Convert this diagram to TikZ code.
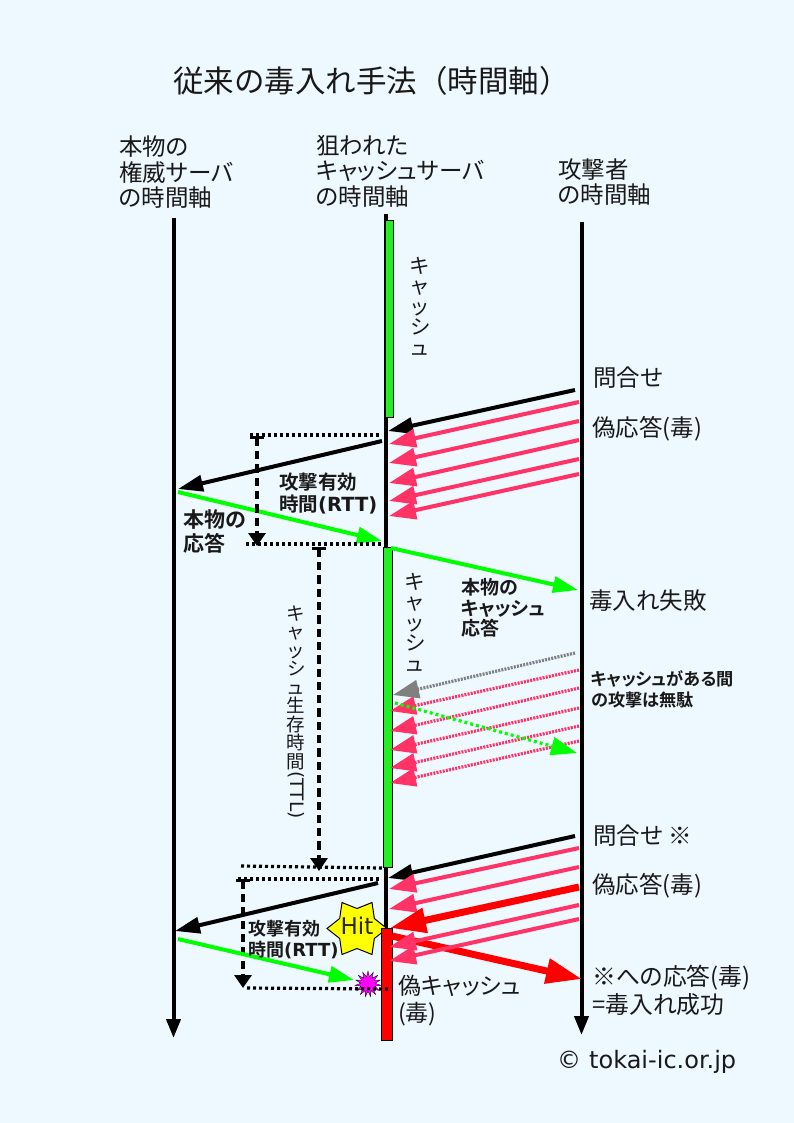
\documentclass[tikz,border=0pt]{standalone}
\usepackage{fontspec}
\setmainfont{Noto Sans CJK JP}[RawFeature=+palt,BoldFont=* Bold]
\newfontfamily\fullfont{Noto Sans CJK JP}
\newfontfamily\latinfont{DejaVu Sans}
\usetikzlibrary{arrows.meta,positioning,shapes.geometric}
\definecolor{softblue}{RGB}{238,248,255}
\definecolor{fakepink}{RGB}{255,51,102}
\definecolor{cachegreen}{RGB}{34,240,34}
\definecolor{hityellow}{RGB}{255,255,0}
\definecolor{burstpink}{RGB}{255,0,255}
\newcommand{\fsz}[1]{\fontsize{#1}{#1}\selectfont}
\begin{document}
\begin{tikzpicture}[
  x=1pt,y=-1pt,
  txt/.style={inner sep=0pt,anchor=west,align=left,text=black!90,font=\fontsize{23.5}{25.5}\selectfont},
  boldtxt/.style={txt,font=\fontsize{19}{20.5}\selectfont\bfseries},
  vert/.style={inner sep=0pt,align=center,text=black!90,font=\fontsize{20.5}{20.5}\selectfont},
  axis/.style={line width=4pt,black},
  bar/.style={draw=black,line width=1pt,inner sep=0pt,minimum width=8pt},
  msg/.style={-{Triangle[length=25pt,width=16pt]},line width=4pt},
  fake/.style={-{Triangle[length=27pt,width=18pt]},line width=4pt,fakepink},
  dot/.style={line width=3.2pt,black,dash pattern=on 3pt off 3pt},
  fine/.style={-{Triangle[length=26pt,width=18pt]},line width=3.2pt,dash pattern=on 2pt off 1.2pt},
  span/.style={{Bar[width=14pt,line width=2.5pt]}-{Triangle[length=13pt,width=17pt]},line width=4.5pt,black,dash pattern=on 8.3pt off 5pt},
  heavy/.style={-{Triangle[length=36pt,width=24pt]},line width=7pt,red}
]
\fill[softblue] (0,0) rectangle (794,1123);
\useasboundingbox (0,0) rectangle (794,1123);

% time axes
\coordinate (authtop) at (173.5,218);
\coordinate (authend) at (173.5,1038);
\coordinate (cachetop) at (386,214);
\coordinate (cacheend) at (386,1000);
\coordinate (atktop) at (581.5,222);
\coordinate (atkend) at (581.5,1035);
\draw[axis,-{Triangle[length=19pt,width=14pt]}] (authtop)--(authend);
\draw[axis] (cachetop)--(cacheend);
\draw[axis,-{Triangle[length=19pt,width=14pt]}] (atktop)--(atkend);

% cache state
\node[bar,fill=cachegreen,minimum height=197pt] (cacheA) at (389.5,319) {};
\node[bar,fill=cachegreen,minimum height=320pt,minimum width=9pt] (cacheB) at (387.5,707) {};
\node[star,star points=6,star point ratio=1.5,rotate=30,draw=black,line width=1pt,fill=hityellow,inner sep=0pt,minimum size=60pt] (hitmark) at (357,928.5) {};
\node[font=\latinfont\fsz{23},inner sep=0pt,text=black!85] (hit) at (357,926) {Hit};
\node[bar,fill=red,minimum height=112pt,minimum width=11pt] (cacheC) at (386.5,984) {};
\node[star,star points=15,star point ratio=1.8,draw=black,line width=.3pt,fill=burstpink,inner sep=0pt,minimum size=26pt] (burst) at (368,984) {};

% first round
\coordinate (q1a) at (575,390); \coordinate (q1b) at (388,431);
\draw[msg] (q1a)--(q1b);
\foreach \n/\ya/\yb in {1/402/444,2/421/463,3/440/483,4/459/501,5/474/516}{
  \coordinate (fa\n) at (579,\ya); \coordinate (fb\n) at (389,\yb);
  \draw[fake] (fa\n)--(fb\n);
}
\coordinate (up1a) at (382,441); \coordinate (up1b) at (178,489);
\draw[msg] (up1a)--(up1b);
\coordinate (real1a) at (178,492); \coordinate (real1b) at (382,541);
\draw[msg,green] (real1a)--(real1b);
\coordinate (real2a) at (391,548); \coordinate (real2b) at (578,590);
\draw[msg,green] (real2a)--(real2b);

\coordinate (rtt1a) at (250,435); \coordinate (rtt1c) at (380,435);
\coordinate (rtt1b) at (246,544); \coordinate (rtt1d) at (384,544);
\draw[dot] (rtt1a)--(rtt1c); \draw[dot] (rtt1b)--(rtt1d);
\coordinate (rtt1top) at (257,436); \coordinate (rtt1low) at (257,546);
\draw[span] (rtt1top)--(rtt1low);
\coordinate (ttltop) at (319,547); \coordinate (ttllow) at (319,871);
\draw[span] (ttltop)--(ttllow);

% while cached
\foreach \n/\ya/\yb in {1/670/711,2/688/731,3/708/750,4/726/768,5/741/783}{
  \coordinate (ga\n) at (579,\ya); \coordinate (gb\n) at (390,\yb);
  \draw[fine,fakepink] (ga\n)--(gb\n);
}
\coordinate (grya) at (575,653); \coordinate (gryb) at (393,695);
\draw[fine,gray] (grya)--(gryb);
\coordinate (deada) at (395,703); \coordinate (deadb) at (577,753);
\draw[fine,green,dash pattern=on 3pt off 3pt] (deada)--(deadb);

% second round
\coordinate (rtt2a) at (241,866); \coordinate (rtt2c) at (382,868);
\coordinate (rtt2b) at (238,879); \coordinate (rtt2d) at (381,879);
\draw[dot] (rtt2a)--(rtt2c); \draw[dot] (rtt2b)--(rtt2d);
\coordinate (rtt2e) at (247,988); \coordinate (rtt2f) at (388,989);
\draw[dot] (rtt2e)--(rtt2f);
\coordinate (rtt2top) at (243,879); \coordinate (rtt2low) at (243,988);
\draw[span] (rtt2top)--(rtt2low);

\coordinate (hita) at (392,936); \coordinate (hitb) at (582,979);
\draw[heavy] (hita)--(hitb);
\coordinate (q2a) at (575,836); \coordinate (q2b) at (388,878);
\draw[msg] (q2a)--(q2b);
\foreach \n/\ya/\yb in {1/848/889,2/867/909,4/905/947,5/919/961}{
  \coordinate (ha\n) at (579,\ya); \coordinate (hb\n) at (389,\yb);
  \draw[fake] (ha\n)--(hb\n);
}
\coordinate (ha3) at (579,887); \coordinate (hb3) at (390,928);
\draw[heavy] (ha3)--(hb3);
\coordinate (up2a) at (378,883); \coordinate (up2b) at (175,931);
\draw[msg] (up2a)--(up2b);
\coordinate (real3a) at (178,939); \coordinate (real3b) at (354,980);
\draw[msg,green] (real3a)--(real3b);

% labels
\node[txt,font=\fullfont\fontsize{30.5}{30.5}\selectfont] (title) at (173,81) {従来の毒入れ手法（時間軸）};
\node[txt] (authlab) at (119,172.5) {本物の\\権威サーバ\\の時間軸};
\node[txt] (cachelab) at (316,171) {狙われた\\キャッシュサーバ\\の時間軸};
\node[txt] (atklab) at (558,182) {攻撃者\\の時間軸};

\node[vert] (cachetxtA) at (420,306) {キ\\ャ\\ッ\\シ\\ュ};
\node[vert] (cachetxtB) at (415,622) {キ\\ャ\\ッ\\シ\\ュ};
\node[vert,font=\fontsize{18.5}{18.5}\selectfont] (ttltxt) at (296,687.5) {キ\\ャ\\ッ\\シ\\ュ\\生\\存\\時\\間};
\node[inner sep=0pt,rotate=-90,font=\latinfont\fsz{18.5},text=black!90] (ttlunit) at (296,795) {(TTL)};

\node[txt] (query1) at (593,378) {問合せ};
\node[txt] (fake1) at (592,429) {偽応答(毒)};
\node[txt] (fail) at (589,601) {毒入れ失敗};
\node[boldtxt,font=\fontsize{19.5}{22}\selectfont\bfseries] (rtt1txt) at (279,493) {攻撃有効\\時間{\latinfont (RTT)}};
\node[boldtxt,font=\fontsize{21}{24}\selectfont\bfseries] (realtxt) at (183,532) {本物の\\応答};
\node[boldtxt] (realcache) at (461,608) {本物の\\キャッシュ\\応答};
\node[boldtxt,font=\fontsize{17.2}{21}\selectfont\bfseries] (wasted) at (591,689.5) {キャッシュがある間\\の攻撃は無駄};
\node[txt] (query2) at (593,836) {問合せ ※};
\node[txt] (fake2) at (592,886) {偽応答(毒)};
\node[boldtxt,font=\fontsize{18}{21}\selectfont\bfseries] (rtt2txt) at (248,939.5) {攻撃有効\\時間{\latinfont (RTT)}};
\node[txt,font=\fontsize{23.8}{28}\selectfont] (win) at (592,990) {※への応答(毒)\\=毒入れ成功};
\node[txt,font=\fontsize{23}{27}\selectfont] (poison) at (398,1000.5) {偽キャッシュ\\(毒)};
\node[txt,font=\latinfont\fsz{24}] (credit) at (557,1062) {©\,\,tokai-ic.or.jp};
\end{tikzpicture}
\end{document}
